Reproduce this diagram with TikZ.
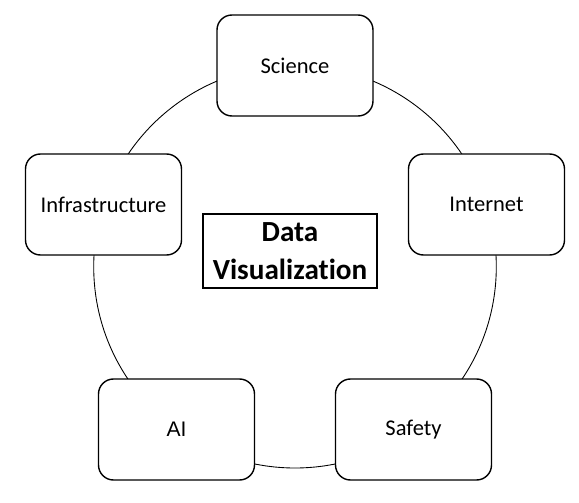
\documentclass[tikz,border=0pt]{standalone}
\usepackage{fontspec}
\setmainfont{Carlito}[Ligatures=NoCommon]
\newfontfamily\arialfont{Liberation Sans}
\usetikzlibrary{positioning}

\begin{document}
\begin{tikzpicture}[
    topic/.style={rectangle, rounded corners=0.3cm, draw=black, line width=0.8pt, fill=white, minimum width=3.12cm, minimum height=2.02cm, font=\fontsize{12.8}{15}\selectfont},
    title/.style={rectangle, draw=black, line width=0.8pt, fill=white, minimum width=3.48cm, minimum height=1.48cm, align=center, font=\fontsize{16.6}{21.5}\selectfont\bfseries},
    ring/.style={draw=black, line width=0.5pt}
]
\useasboundingbox (0,0) rectangle (11.58,10.04);

% Ring behind the topics
\coordinate (hub) at (5.90, 4.706);
\draw[ring] (hub) circle (4.026);

\node[topic] (science) at (5.90, 8.73) {Science};
\node[topic] (internet) at (9.73, 5.95) {Internet};
\node[topic] (safety) at (8.27, 1.45) {Safety};
\node[topic, font=\arialfont\fontsize{12}{14}\selectfont] (ai) at (3.53, 1.45) {AI};
\node[topic] (infra) at (2.07, 5.95) {Infrastructure};

% Centre title
\node[title] (dataviz) at (5.80, 5.02) {Data\\Visualization};

\end{tikzpicture}
\end{document}
